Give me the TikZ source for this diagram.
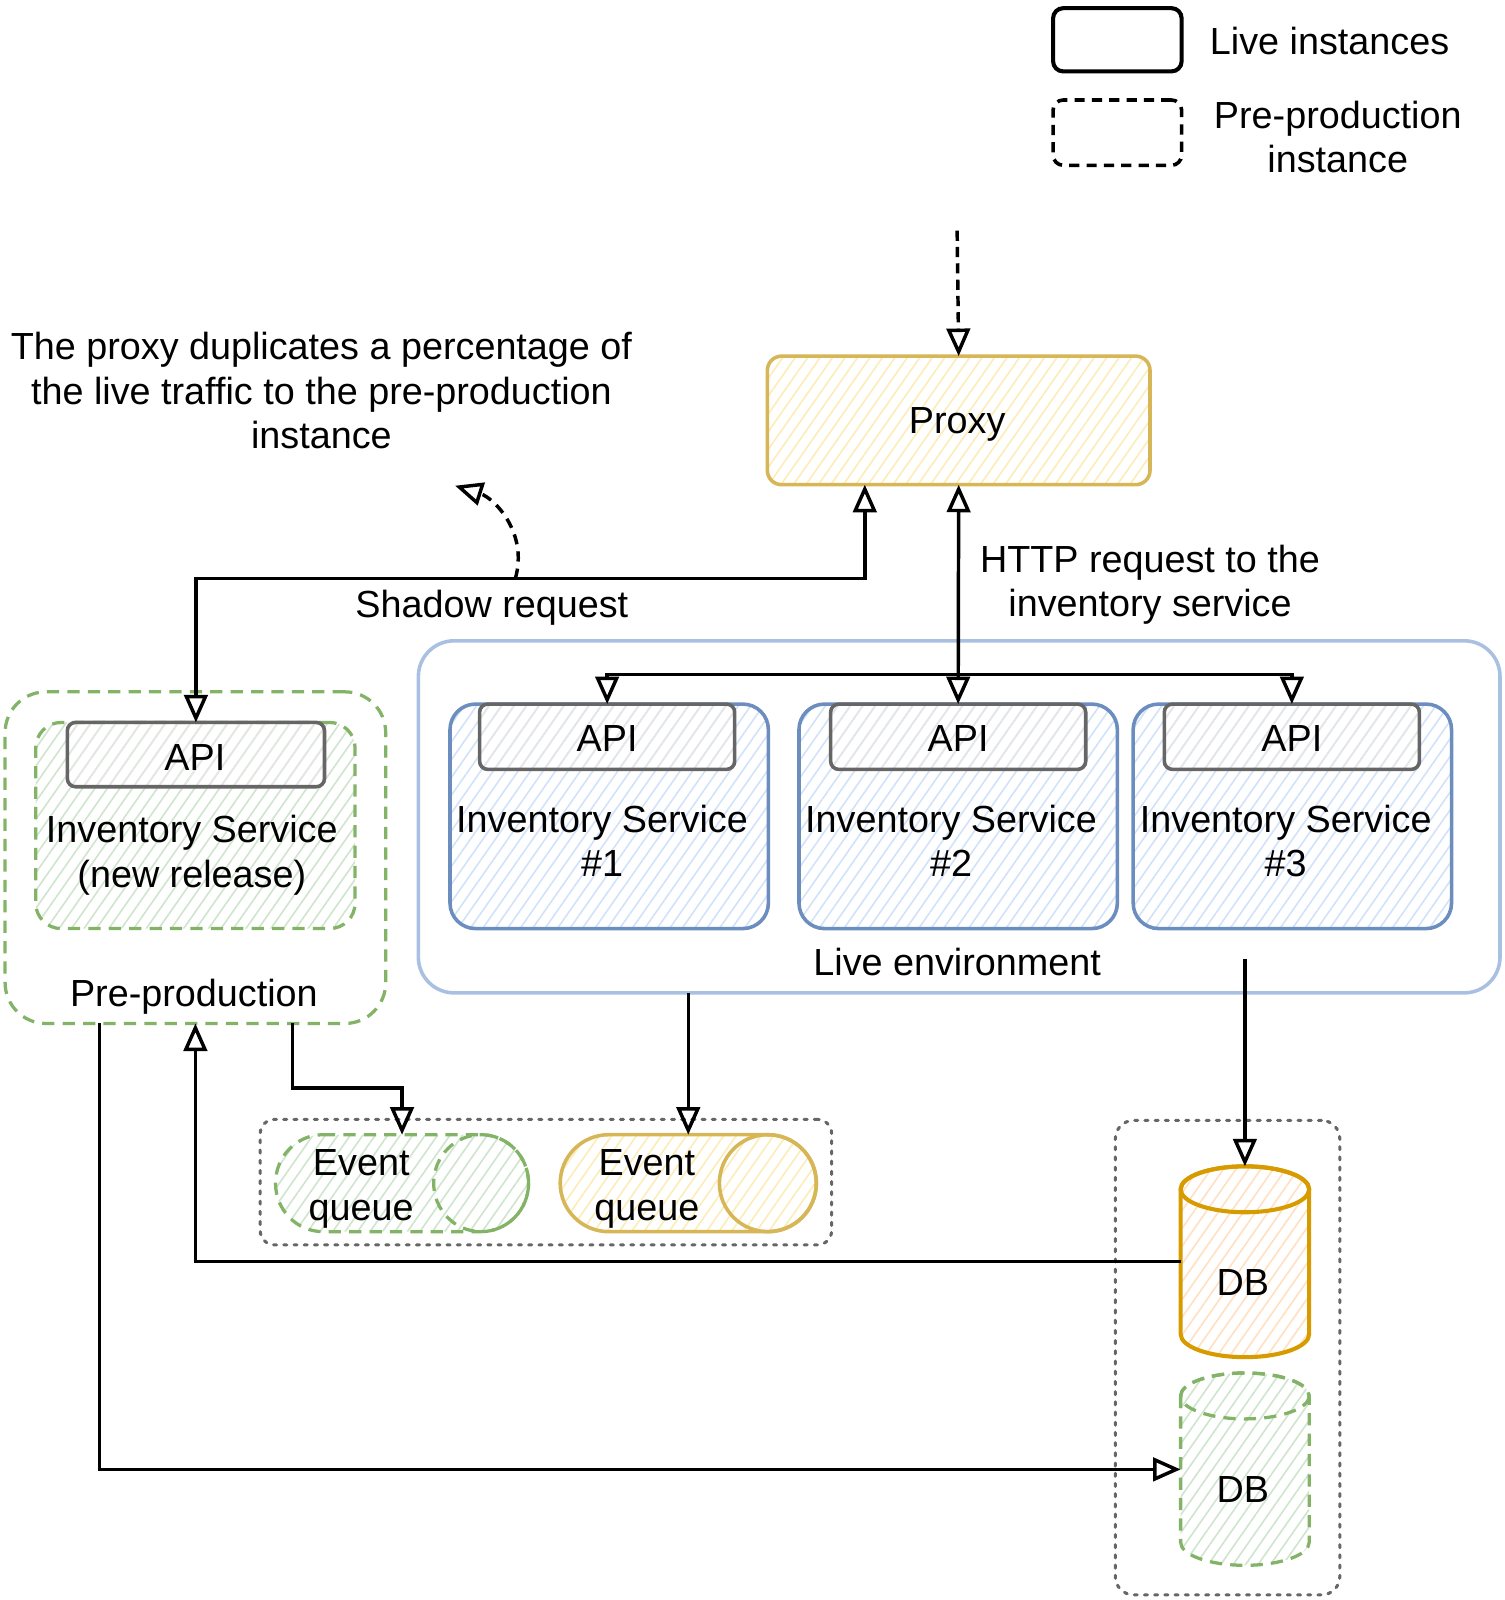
\documentclass[tikz,border=0pt]{standalone}
\usepackage{fontspec}
\setmainfont{Liberation Sans}
\usetikzlibrary{arrows.meta,patterns.meta,calc}
\definecolor{yelS}{HTML}{D6B656}
\definecolor{yelF}{HTML}{FCEDB8}
\definecolor{bluS}{HTML}{6C8EBF}
\definecolor{bluF}{HTML}{D2E2F8}
\definecolor{grnS}{HTML}{82B366}
\definecolor{grnF}{HTML}{CFE5CD}
\definecolor{orgS}{HTML}{D79B00}
\definecolor{orgF}{HTML}{FFE0C2}
\definecolor{gryS}{HTML}{666666}
\definecolor{gryF}{HTML}{E6E6E6}
\definecolor{envS}{HTML}{AAC0E2}
\begin{document}
\begin{tikzpicture}[x=1pt,y=-1pt,
  every node/.style={font={\fontsize{37}{43.5}\selectfont},inner sep=0pt,outer sep=0pt},
  txt/.style={align=center},
  hatch/.style={pattern={Lines[angle=55,distance=10pt,line width=1.6pt]},pattern color=#1},
  rbox/.style={draw,rectangle,rounded corners=#1},
  gdash/.style={draw=grnS,line width=3.2pt,dash pattern=on 12pt off 8pt},
  gdot/.style={draw=gryS,line width=3pt,dash pattern=on 3pt off 7pt,line cap=round},
  conn/.style={draw=black,line width=3.4pt},
  arr/.style={conn,-{Triangle[open,length=27pt,width=23pt,line width=3.4pt]}},
  darr/.style={conn,{Triangle[open,length=27pt,width=23pt,line width=3.4pt]}-{Triangle[open,length=27pt,width=23pt,line width=3.4pt]}}
]
\useasboundingbox (0,0) rectangle (1474,1568);

% legend
\node[rbox=10pt,draw=black,line width=4pt,minimum width=126pt,minimum height=62pt] (leg1) at (1095,39) {};
\node[rbox=10pt,draw=black,line width=3.5pt,dash pattern=on 10pt off 7pt,minimum width=126pt,minimum height=64pt] (leg2) at (1095,130) {};
\node (leg1t) at (1303,40) {Live instances};
\node[txt] (leg2t) at (1311,134) {Pre-production\\instance};

% annotation
\node[txt] (note) at (315,383) {The proxy duplicates a percentage of\\the live traffic to the pre-production\\instance};

% proxy
\node[rbox=14pt,draw=yelS,line width=3.5pt,hatch=yelF,minimum width=375pt,minimum height=126pt] (proxy) at (939.5,412) {};
\node (proxyt) at (938,416) {Proxy};

% live environment
\node[rbox=35pt,draw=envS,line width=3.5pt,minimum width=1060pt,minimum height=345pt] (env) at (940,800.5) {};
\node (envt) at (938,943) {Live environment};

% services
\foreach \n/\cx/\ax/\tx in {1/597/595/590,2/939/939/932,3/1266.5/1266/1260}{
  \node[rbox=25pt,draw=bluS,line width=3.5pt,hatch=bluF,minimum width=312pt,minimum height=220pt] (s\n) at (\cx,800) {};
  \node[rbox=8pt,draw=gryS,line width=3.5pt,hatch=gryF,minimum width=250pt,minimum height=64pt] (api\n) at (\ax,722) {};
  \node (api\n t) at (\ax,724) {API};
  \node[txt] (s\n t) at (\tx,824) {Inventory Service\\\#\n};
}

% pre-production
\node[rbox=40pt,gdash,minimum width=373pt,minimum height=325pt] (pre) at (191.5,840.5) {};
\node (pret) at (190,977) {Pre-production};
\node[rbox=25pt,gdash,hatch=grnF,minimum width=313pt,minimum height=202pt] (prein) at (191.5,809) {};
\node[rbox=8pt,draw=gryS,line width=3.5pt,hatch=gryF,minimum width=252pt,minimum height=63pt] (papi) at (192,739.5) {};
\node (papit) at (191,742) {API};
\node[txt] (preint) at (188,838) {Inventory Service\\(new release)};

% event queue group
\node[rbox=14pt,gdot,minimum width=560pt,minimum height=123pt] (eqg) at (535,1158.5) {};
% green event queue
\draw[gdash,hatch=grnF] (316.5,1112) -- (471.5,1112) arc[start angle=-90,end angle=90,x radius=46.5,y radius=47.5] -- (316.5,1207) arc[start angle=90,end angle=270,x radius=46.5,y radius=47.5] -- cycle;
\draw[gdash] (471.5,1159.5) ellipse[x radius=46.5,y radius=47.5];
\node[minimum width=248pt,minimum height=95pt] (eq1) at (394,1159.5) {};
\node[txt] (eq1t) at (354,1165) {Event\\queue};
% yellow event queue
\draw[yelS,line width=3.5pt,hatch=yelF] (596.5,1112) -- (752.5,1112) arc[start angle=-90,end angle=90,x radius=47.5,y radius=47.5] -- (596.5,1207) arc[start angle=90,end angle=270,x radius=47.5,y radius=47.5] -- cycle;
\draw[yelS,line width=3.5pt] (752.5,1159.5) ellipse[x radius=47.5,y radius=47.5];
\node[minimum width=251pt,minimum height=95pt] (eq2) at (674.5,1159.5) {};
\node[txt] (eq2t) at (634,1165) {Event\\queue};

% db group
\node[rbox=18pt,gdot,minimum width=220pt,minimum height=465pt] (dbg) at (1203,1330.5) {};
% orange DB
\draw[orgS,line width=4pt,hatch=orgF] (1157,1165.5) -- (1157,1307.5) arc[start angle=180,end angle=0,x radius=63,y radius=22.5] -- (1283,1165.5) arc[start angle=0,end angle=-180,x radius=63,y radius=22.5] -- cycle;
\draw[orgS,line width=4pt] (1220,1165.5) ellipse[x radius=63,y radius=22.5];
\node[minimum width=126pt,minimum height=187pt] (db1) at (1220,1236.5) {};
\node (db1t) at (1218,1257) {DB};
% green DB
\draw[gdash,hatch=grnF] (1157,1368) -- (1157,1511.5) arc[start angle=180,end angle=0,x radius=63,y radius=22.5] -- (1283,1368) arc[start angle=0,end angle=-180,x radius=63,y radius=22.5] -- cycle;
\draw[gdash] (1220,1368) ellipse[x radius=63,y radius=22.5];
\node[minimum width=126pt,minimum height=188pt] (db2) at (1220,1440) {};
\node (db2t) at (1218,1460) {DB};

% connectors
\coordinate (inTop) at (938,226);
\draw[arr,dash pattern=on 10pt off 6pt] (inTop) -- (proxy.north);
\draw[darr] ([xshift=-92pt]proxy.south) -- ++(0,92) -| (papi.north);
\node (shadowt) at (482,596) {Shadow request};
\coordinate (cvA) at (505,567);
\coordinate (cvB) at (446,476);
\draw[arr,dash pattern=on 10pt off 7pt] (cvA) .. controls (518,522) and (484,488) .. (cvB);
\draw[darr] (proxy.south) -- (api2.north);
\node[txt] (httpt) at (1127,573) {HTTP request to the\\inventory service};
\draw[darr] (api1.north) -- ++(0,-29) -| (api3.north);
\draw[arr] ([xshift=95pt]pre.south) |- ([yshift=46pt]eq1.north) -- (eq1.north);
\draw[arr] (eq2.north |- env.south) -- (eq2.north);
\coordinate (dbIn) at (1220,940);
\draw[arr] (dbIn) -- (db1.north);
\draw[arr] (db1.west) -| (pre.south);
\draw[arr] ([xshift=-94pt]pre.south) |- (db2.west);
\end{tikzpicture}
\end{document}
